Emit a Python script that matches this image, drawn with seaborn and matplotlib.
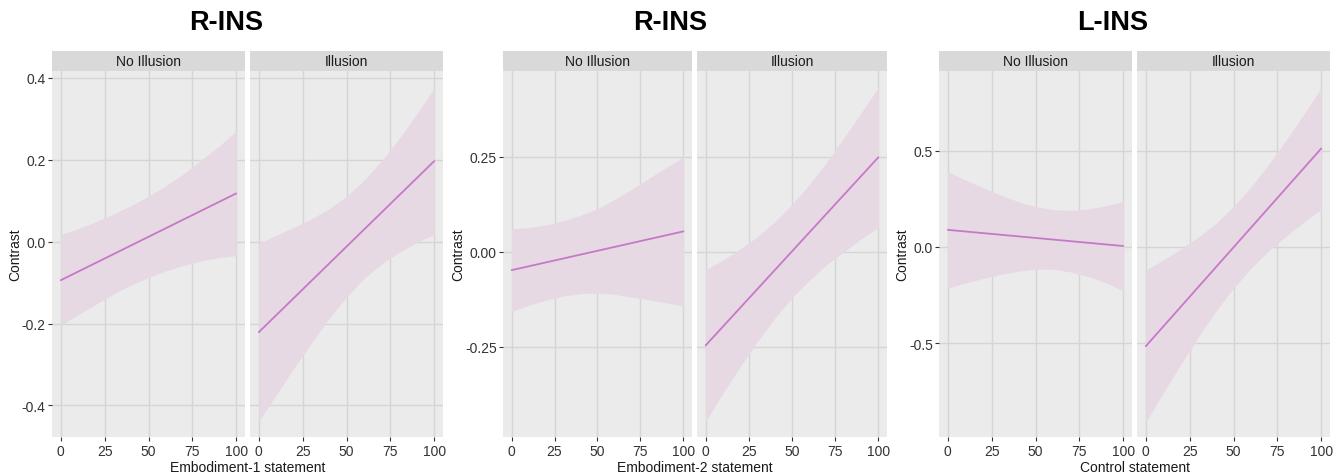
import matplotlib
matplotlib.use("Agg")
import matplotlib.pyplot as plt
import seaborn as sns
import pandas as pd

# ---------------- data ----------------
titles = ["R-INS", "R-INS", "L-INS"]
xlabels = ["Embodiment-1 statement", "Embodiment-2 statement", "Control statement"]
facets = ["No Illusion", "Illusion"]
x_ticks = [0, 25, 50, 75, 100]
x_band = [0, 10, 20, 30, 40, 50, 60, 70, 80, 90, 100]
x_line = [0, 100]

# Embodiment-1 (R-INS)
e1_ni_line = [-0.094, 0.118]
e1_ni_up = [0.018, 0.032, 0.049, 0.068, 0.088, 0.111, 0.137, 0.166, 0.199, 0.233, 0.270]
e1_ni_lo = [-0.204, -0.178, -0.153, -0.128, -0.106, -0.087, -0.071, -0.058, -0.047, -0.039, -0.034]
e1_il_line = [-0.221, 0.197]
e1_il_up = [-0.004, 0.016, 0.035, 0.056, 0.080, 0.111, 0.150, 0.198, 0.252, 0.312, 0.376]
e1_il_lo = [-0.438, -0.374, -0.309, -0.248, -0.188, -0.135, -0.090, -0.054, -0.026, -0.002, 0.018]
e1_yticks = [-0.4, -0.2, 0.0, 0.2, 0.4]
e1_yticklabels = ["-0.4", "-0.2", "0.0", "0.2", "0.4"]
e1_ylim = (-0.477, 0.417)

# Embodiment-2 (R-INS)
e2_ni_line = [-0.049, 0.053]
e2_ni_up = [0.060, 0.063, 0.070, 0.081, 0.095, 0.113, 0.137, 0.164, 0.193, 0.221, 0.249]
e2_ni_lo = [-0.158, -0.141, -0.128, -0.117, -0.111, -0.109, -0.113, -0.120, -0.127, -0.135, -0.143]
e2_il_line = [-0.247, 0.248]
e2_il_up = [-0.047, -0.023, 0.007, 0.039, 0.078, 0.124, 0.176, 0.235, 0.299, 0.365, 0.432]
e2_il_lo = [-0.447, -0.373, -0.303, -0.237, -0.176, -0.122, -0.076, -0.035, -0.001, 0.033, 0.064]
e2_yticks = [-0.25, 0.0, 0.25]
e2_yticklabels = ["-0.25", "0.00", "0.25"]
e2_ylim = (-0.488, 0.475)

# Control (L-INS)
c_ni_line = [0.089, 0.005]
c_ni_up = [0.392, 0.348, 0.308, 0.271, 0.236, 0.210, 0.194, 0.190, 0.198, 0.214, 0.237]
c_ni_lo = [-0.214, -0.188, -0.164, -0.143, -0.126, -0.116, -0.116, -0.130, -0.154, -0.186, -0.227]
c_il_line = [-0.516, 0.512]
c_il_up = [-0.121, -0.068, -0.010, 0.052, 0.123, 0.210, 0.313, 0.429, 0.556, 0.689, 0.828]
c_il_lo = [-0.911, -0.758, -0.610, -0.468, -0.333, -0.214, -0.111, -0.021, 0.056, 0.129, 0.196]
c_yticks = [-0.5, 0.0, 0.5]
c_yticklabels = ["-0.5", "0.0", "0.5"]
c_ylim = (-0.988, 0.915)

groups = [
    dict(lines=[e1_ni_line, e1_il_line], ups=[e1_ni_up, e1_il_up], los=[e1_ni_lo, e1_il_lo],
         yticks=e1_yticks, yticklabels=e1_yticklabels, ylim=e1_ylim),
    dict(lines=[e2_ni_line, e2_il_line], ups=[e2_ni_up, e2_il_up], los=[e2_ni_lo, e2_il_lo],
         yticks=e2_yticks, yticklabels=e2_yticklabels, ylim=e2_ylim),
    dict(lines=[c_ni_line, c_il_line], ups=[c_ni_up, c_il_up], los=[c_ni_lo, c_il_lo],
         yticks=c_yticks, yticklabels=c_yticklabels, ylim=c_ylim),
]

# ---------------- style ----------------
sns.set_theme(style="darkgrid")
plt.rcParams["font.family"] = ["Liberation Sans", "DejaVu Sans"]

W, H = 1341, 477
fig = plt.figure(figsize=(W / 100, H / 100), dpi=100)
fig.patch.set_facecolor("white")

PANEL_BG = "#EBEBEB"
GRID = "#D5D5D5"
STRIP_BG = "#D9D9D9"
LINE_C = "#C678C8"
BAND_C = "#E7D9E4"
TEXT_C = "#1A1A1A"
TICK_C = "#333333"

panel_x = [[(52, 245), (250, 443)], [(503, 692), (697, 887)], [(939, 1132), (1137, 1330)]]
title_x = [226, 670, 1113]
ylab_x = [15, 458, 902]
top_plot, bot_plot, top_strip = 72, 438, 52
FS = 10


def fx(px):
    return px / W


def fy(py):
    return 1 - py / H


for g, grp in enumerate(groups):
    for f in range(2):
        x0, x1 = panel_x[g][f]
        ax = fig.add_axes([fx(x0), fy(bot_plot), fx(x1 - x0), (bot_plot - top_plot) / H])
        ax.set_facecolor(PANEL_BG)
        ax.fill_between(x_band, grp["los"][f], grp["ups"][f], color=BAND_C,
                        linewidth=0, zorder=2)
        df = pd.DataFrame({"x": x_line, "y": grp["lines"][f]})
        sns.lineplot(data=df, x="x", y="y", ax=ax, color=LINE_C, linewidth=1.3, zorder=3)
        ax.set_xlim(-5, 105)
        ax.set_ylim(*grp["ylim"])
        ax.set_xticks(x_ticks)
        ax.set_xticklabels([str(t) for t in x_ticks], fontsize=FS, color=TICK_C)
        ax.set_yticks(grp["yticks"])
        if f == 0:
            ax.set_yticklabels(grp["yticklabels"], fontsize=FS, color=TICK_C)
            ax.tick_params(axis="y", length=3, width=0.8, color=TICK_C, pad=1.5, left=True)
        else:
            ax.set_yticklabels([])
            ax.tick_params(axis="y", length=0)
        ax.tick_params(axis="x", length=3, width=0.8, color=TICK_C, pad=2, bottom=True)
        ax.grid(True, color=GRID, linewidth=1.0)
        ax.set_axisbelow(True)
        for s in ax.spines.values():
            s.set_visible(False)
        ax.set_xlabel("")
        ax.set_ylabel("")

        # strip
        sax = fig.add_axes([fx(x0), fy(top_plot), fx(x1 - x0), (top_plot - top_strip) / H])
        sax.set_facecolor(STRIP_BG)
        sax.set_xticks([])
        sax.set_yticks([])
        for s in sax.spines.values():
            s.set_visible(False)
        sax.text(0.5, 0.5, facets[f], ha="center", va="center", fontsize=FS,
                 color=TEXT_C, transform=sax.transAxes)

    # group title, axis labels
    fig.text(fx(title_x[g]), fy(23), titles[g], ha="center", va="center",
             fontsize=19.5, fontweight="bold", color="black")
    xc = (panel_x[g][0][0] + panel_x[g][1][1]) / 2
    fig.text(fx(xc), fy(468), xlabels[g], ha="center", va="center", fontsize=FS, color=TEXT_C)
    fig.text(fx(ylab_x[g]), fy((top_plot + bot_plot) / 2), "Contrast", ha="center",
             va="center", rotation=90, fontsize=FS, color=TEXT_C)

fig.savefig("out.png", dpi=100, facecolor="white")
